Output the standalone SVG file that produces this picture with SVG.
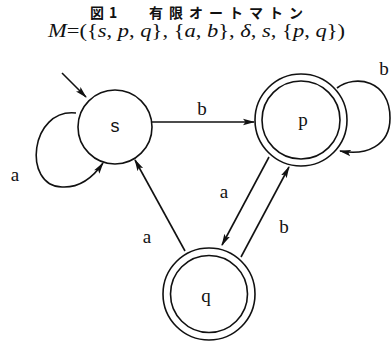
<svg xmlns="http://www.w3.org/2000/svg" width="391" height="343" viewBox="0 0 391 343">
<style>
.st{fill:none;stroke:#111;stroke-width:1.6}
.ln{fill:none;stroke:#111;stroke-width:1.6}
.nl{font-family:"Liberation Serif",serif;font-size:19px;fill:#111;text-anchor:middle}
.el{font-family:"Liberation Serif",serif;font-size:19px;fill:#111;text-anchor:middle}
.i{font-style:italic}
</style>
<defs>
<marker id="ah" markerWidth="12" markerHeight="8" refX="11" refY="4" orient="auto" markerUnits="userSpaceOnUse">
<path d="M0,0.8 L12,4 L0,7.2 L2.5,4 Z" fill="#111"/>
</marker>
</defs>
<rect width="391" height="343" fill="#fff"/>
<g id="title">
<text x="90" y="18" font-family="'Noto Sans CJK JP',sans-serif" font-size="14" font-weight="bold" fill="#111" letter-spacing="5">図1</text>
<text x="149" y="18" font-family="'Noto Sans CJK JP',sans-serif" font-size="14" font-weight="bold" fill="#111" letter-spacing="6">有限オートマトン</text>
<text x="48" y="37" font-family="'Liberation Serif',serif" font-size="18" fill="#111" textLength="297" lengthAdjust="spacingAndGlyphs"><tspan class="i">M</tspan>=({<tspan class="i">s</tspan>, <tspan class="i">p</tspan>, <tspan class="i">q</tspan>}, {<tspan class="i">a</tspan>, <tspan class="i">b</tspan>}, <tspan class="i">δ</tspan>, <tspan class="i">s</tspan>, {<tspan class="i">p</tspan>, <tspan class="i">q</tspan>})</text>
</g>
<g id="node-s">
<circle class="st" cx="115" cy="127" r="37"/>
<text x="115" y="132" font-family="'Liberation Sans',sans-serif" font-size="18" fill="#111" text-anchor="middle">s</text>
</g>
<g id="node-p">
<circle class="st" cx="301" cy="120" r="46"/>
<circle class="st" cx="301" cy="120" r="39"/>
<text class="nl" x="303" y="126">p</text>
</g>
<g id="node-q">
<circle class="st" cx="209" cy="294" r="46"/>
<circle class="st" cx="209" cy="294" r="38.5"/>
<text class="nl" x="206" y="302">q</text>
</g>
<g id="connectors">
<line class="ln" x1="62" y1="73" x2="86" y2="97" marker-end="url(#ah)"/>
<path class="ln" d="M76 113 C30 108, 22 186, 62 187 C80 188, 94 176, 103 163" marker-end="url(#ah)"/>
<line class="ln" x1="152" y1="122" x2="254" y2="122" marker-end="url(#ah)"/>
<path class="ln" d="M337 88 C355 74, 390 80, 390 118 C390 146, 366 156, 340 151" marker-end="url(#ah)"/>
<line class="ln" x1="269" y1="157" x2="222" y2="245" marker-end="url(#ah)"/>
<line class="ln" x1="241" y1="257" x2="289" y2="167" marker-end="url(#ah)"/>
<line class="ln" x1="185" y1="251" x2="135" y2="160" marker-end="url(#ah)"/>
</g>
<g id="labels">
<text class="el" x="15" y="181">a</text>
<text class="el" x="202" y="115">b</text>
<text class="el" x="384" y="75">b</text>
<text class="el" x="224" y="198">a</text>
<text class="el" x="284" y="233">b</text>
<text class="el" x="147" y="243">a</text>
</g>
</svg>
